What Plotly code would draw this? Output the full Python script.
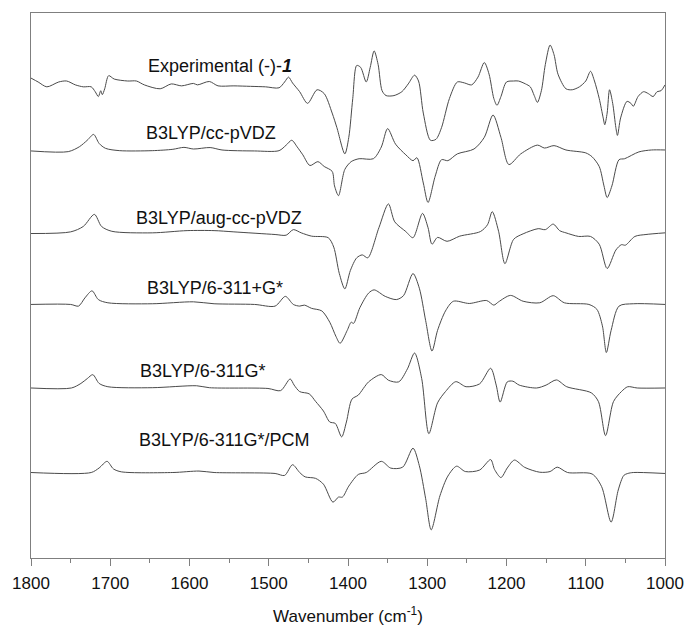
import plotly.graph_objects as go

# ---- data (wavenumber in cm-1, VCD intensity in arbitrary units) ----
exp_wn = [1800, 1791, 1780, 1765, 1755, 1744, 1734, 1724, 1719, 1715, 1712, 1710, 1707, 1702, 1695,
          1678, 1667, 1657, 1637, 1623, 1610, 1595, 1590, 1575, 1564, 1544, 1523, 1504, 1487, 1480,
          1475, 1470, 1461, 1451, 1439, 1430, 1420, 1414, 1404, 1399, 1394, 1389, 1384, 1377, 1372,
          1367, 1362, 1357, 1352, 1342, 1332, 1324, 1316, 1311, 1305, 1296, 1289, 1282, 1272, 1262,
          1253, 1244, 1236, 1228, 1222, 1216, 1212, 1207, 1200, 1191, 1185, 1176, 1170, 1165, 1161,
          1156, 1151, 1145, 1140, 1135, 1125, 1117, 1108, 1100, 1094, 1089, 1083, 1078, 1076, 1073,
          1070, 1066, 1062, 1060, 1056, 1048, 1043, 1040, 1034, 1027, 1021, 1015, 1010, 1005, 1000]
exp_int = [9, 5, 0, 5, 6, 2, 0, 0, -5, -10, -4, -8, -2, 11.5, 8,
           6, 6, 2, -2, 3, 1, 3.5, 2, 5.5, 1, 1, 0.5, 0, -1, 5,
           10, 4, -5, -17, -3, -7, -27, -42, -69, -52, -12, 22, 20, 5, 20,
           37, 23, -4, -9, -9, -5, 3, 12, 6, -27, -55, -54, -42, -12, 5,
           4, 2, 10, 25, 13, -12, -19, -10, 5, 6, 6, 3, 0, -9, -16,
           -4, 23, 43, 33, 13, -2, -3, 0, 6, 16, 6, -12, -32, -39, -27,
           -3, -17, -42, -50, -32, -15, -17, -20, -10, -5, -7, -10, -5, -4, 2]

cc_wn = [1800, 1753, 1739, 1729, 1721, 1714, 1706, 1688, 1647, 1621, 1607, 1595, 1574, 1559, 1518,
         1487, 1478, 1471, 1464, 1457, 1448, 1438, 1430, 1420, 1417, 1412, 1404, 1396, 1386, 1368,
         1358, 1350, 1340, 1327, 1318, 1313, 1305, 1299, 1290, 1282, 1274, 1262, 1241, 1228, 1217,
         1207, 1197, 1182, 1161, 1152, 1140, 1125, 1100, 1092, 1083, 1077, 1073, 1067, 1058, 1051,
         1033, 1017, 1000]
cc_int = [0, -0.7, 4.3, 11, 17, 7.7, 2.7, 0.3, 0.3, 1.7, 3.7, 2, 3.5, 1, 0,
          0.3, 6, 11, 4, -4, -15, -11, -16, -21, -36, -46, -19, -11, -8, -8,
          4, 23, 7, -4, -10, -7, -33, -53, -26, -9, -10, -3, 2, 14, 37,
          14, -14, -3, 6, 3, 5.5, 1, -2, -6, -16, -36, -48, -36, -9, -8,
          -1, 1, 1]

aug_wn = [1800, 1750, 1734, 1720, 1711, 1698, 1647, 1603, 1569, 1544, 1492, 1478, 1469, 1459, 1446,
          1425, 1418, 1411, 1404, 1397, 1389, 1382, 1375, 1361, 1349, 1341, 1327, 1318, 1306, 1299,
          1294, 1287, 1275, 1259, 1233, 1224, 1218, 1210, 1202, 1191, 1179, 1160, 1151, 1141, 1133,
          1125, 1109, 1094, 1083, 1073, 1062, 1055, 1050, 1038, 1024, 1000]
aug_int = [0, 1.7, 7.3, 19.7, 7.3, 2.3, 0.7, 3, 3, 1.7, -1, -1.7, 4, 0.7, -2.7,
           -4.3, -14, -41, -57, -38, -25, -22, -25, 6, 30.5, 12, 2, -4.3, 20.7, 6,
           -11, -4, -8, -2.7, 2, 9, 22.5, 2.3, -31, -6, -0.3, 5, 4, 9.7, 3,
           0.7, -3, -3, -11, -36, -17, -11.5, -12, -3, -1, 0.7]

g311p_wn = [1800, 1750, 1740, 1732, 1723, 1715, 1703, 1647, 1595, 1569, 1518, 1492, 1479, 1469, 1461,
            1455, 1446, 1433, 1423, 1415, 1410, 1401, 1396, 1393, 1385, 1374, 1367, 1353, 1339, 1330,
            1318, 1310, 1302, 1294, 1287, 1277, 1267, 1247, 1225, 1216, 1210, 1195, 1179, 1158, 1141,
            1127, 1096, 1086, 1079, 1074, 1068, 1058, 1040, 1000]
g311p_int = [0, 0, -1.7, 6.7, 14, 5, 1.7, 0.7, 2.7, 0.7, 0, -1.7, 8.3, 0, -1.7,
             -0.7, -4, -6.7, -18.3, -33.3, -40, -26.7, -18.3, -19.5, -3.3, 11.7, 15, 8.3, 5, 9,
             31.8, 16.7, -16.7, -48, -26.7, -6.7, 3.3, 1, 4, -0.7, 2.7, 9.3, 3.3, 1.7, 9,
             1.7, 0, -5, -22, -49.5, -26.7, -1.7, 0.7, 0]

g311_wn = [1800, 1749, 1737, 1729, 1722, 1714, 1703, 1647, 1591, 1575, 1501, 1485, 1473, 1468, 1461,
           1449, 1441, 1431, 1423, 1416, 1408, 1402, 1395, 1387, 1374, 1358, 1349, 1336, 1325, 1316,
           1307, 1298, 1287, 1277, 1264, 1251, 1234, 1220, 1213, 1208, 1199, 1192, 1184, 1162, 1150,
           1137, 1124, 1093, 1084, 1075, 1065, 1055, 1047, 1035, 1000]
g311_int = [0, 0, 4.7, 9.7, 13.7, 4.7, 1.3, 0.3, 2.3, 0.3, -0.5, -2.7, 9.3, 3, -3.7,
            -6, -13.7, -23.7, -35, -36.5, -50.3, -35, -11.5, -7.3, 6.3, 13.8, 8, 6.3, 19.7, 36,
            9.7, -47, -15.3, -3.7, 6.5, 1.3, 4.2, 20.3, 3, -14.5, 6.3, 7, 3, 0, 3,
            8.3, 1.3, -5, -14, -49, -14, -3.7, 1.3, 0, 0]

pcm_wn = [1800, 1724, 1714, 1704, 1696, 1686, 1621, 1588, 1569, 1492, 1480, 1470, 1461, 1454, 1441,
          1431, 1419, 1412, 1407, 1399, 1387, 1377, 1358, 1346, 1331, 1318, 1310, 1302, 1295, 1284,
          1274, 1263, 1252, 1234, 1220, 1215, 1207, 1199, 1190, 1177, 1158, 1145, 1136, 1123, 1092,
          1080, 1068, 1059, 1052, 1047, 1040, 1000]
pcm_int = [0, 0, 4.7, 11.5, 3.7, 0.7, 0, 1.5, 0, -1, -3, 8, 0, -4.5, -6,
           -12, -30.5, -25.3, -25.3, -14, -2, 0, 11.5, 4.5, 5.5, 25, 7, -27, -59, -24,
           -3.7, 6.5, 1, 2.5, 13.3, 3, -5.2, 4.7, 12.8, 5.3, 0.3, 1, 5.5, 0, -1.5,
           -14.5, -51, -18, -3, -1, 0, -1]

series_wn = [exp_wn, cc_wn, aug_wn, g311p_wn, g311_wn, pcm_wn]
series_int = [exp_int, cc_int, aug_int, g311p_int, g311_int, pcm_int]
series_offset = [485, 419, 334, 261, 175, 88]
series_labels = ["Experimental (-)-<b><i>1</i></b>", "B3LYP/cc-pVDZ", "B3LYP/aug-cc-pVDZ",
                 "B3LYP/6-311+G*", "B3LYP/6-311G*", "B3LYP/6-311G*/PCM"]
label_wn = [1561, 1573, 1563, 1568, 1584, 1557]
label_y = [506, 437, 349.5, 278, 193, 121.5]

x_ticks = [1800, 1700, 1600, 1500, 1400, 1300, 1200, 1100, 1000]

FONT = "Arial, 'Liberation Sans', sans-serif"
LINE_COLOR = "#4a4a4a"
AXIS_COLOR = "#7f7f7f"

fig = go.Figure()
for wn, inten, off in zip(series_wn, series_int, series_offset):
    fig.add_trace(go.Scatter(
        x=wn, y=[v + off for v in inten], mode="lines",
        line=dict(color=LINE_COLOR, width=1, shape="spline", smoothing=0.8),
        showlegend=False, hoverinfo="skip"))

for txt, xw, yv in zip(series_labels, label_wn, label_y):
    fig.add_annotation(x=xw, y=yv, xref="x", yref="y", text=txt, showarrow=False,
                       font=dict(family=FONT, size=18, color="#111111"),
                       xanchor="center", yanchor="middle")

fig.update_layout(
    width=696, height=634,
    margin=dict(l=29, r=22, t=12, b=61),
    paper_bgcolor="white", plot_bgcolor="white",
    font=dict(family=FONT, size=17, color="#111111"),
    xaxis=dict(range=[1800, 1000], tickvals=x_ticks, ticktext=[str(t) for t in x_ticks],
               showline=True, linecolor=AXIS_COLOR, linewidth=1, mirror=True,
               ticks="outside", ticklen=7, tickcolor=AXIS_COLOR, tickwidth=1,
               ticklabelstandoff=3,
               minor=dict(dtick=50, ticks="outside", ticklen=4, tickcolor=AXIS_COLOR),
               showgrid=False, zeroline=False,
               tickfont=dict(family=FONT, size=17, color="#111111"),
               title=dict(text="Wavenumber (cm<sup>-1</sup>)", standoff=17,
                          font=dict(family=FONT, size=17, color="#111111"))),
    yaxis=dict(range=[0, 561], showline=True, linecolor=AXIS_COLOR, linewidth=1, mirror=True,
               showticklabels=False, ticks="", showgrid=False, zeroline=False),
)

fig.write_html("out.html")
